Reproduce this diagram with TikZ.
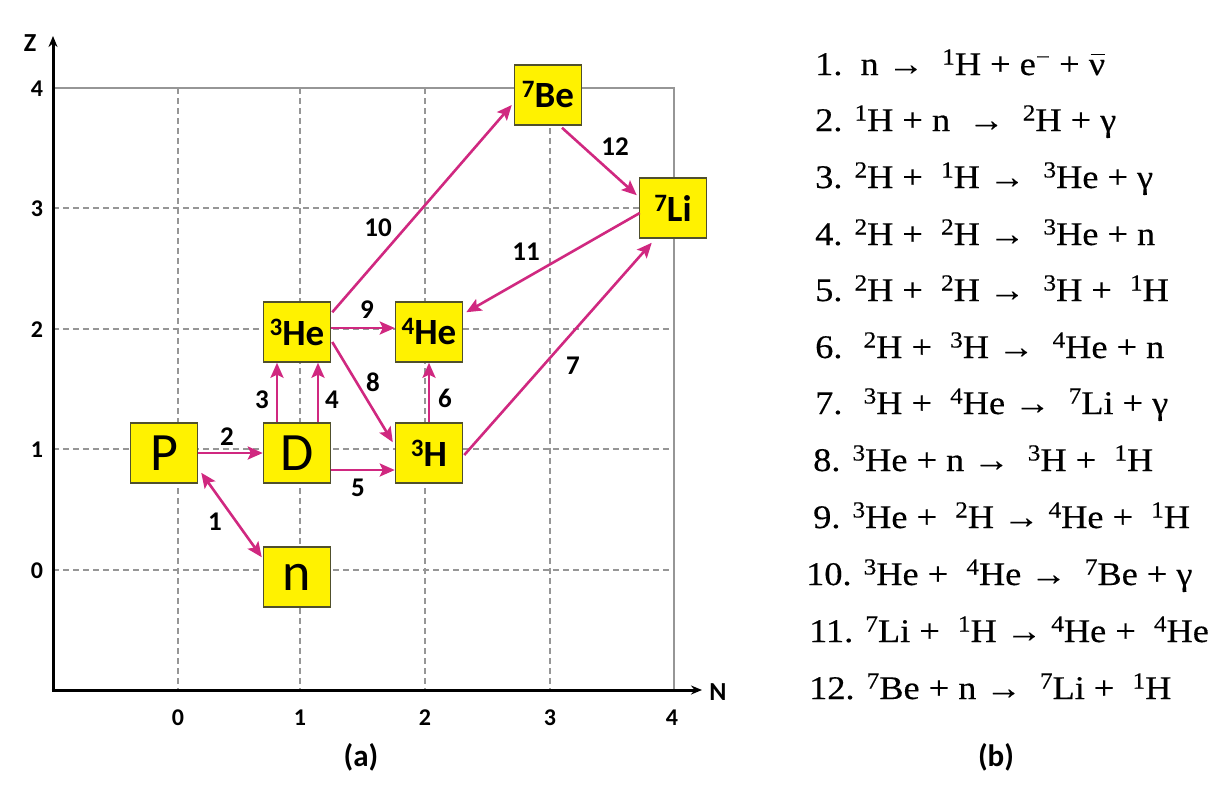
\documentclass[tikz,border=0pt]{standalone}
\usepackage{fontspec}
\setmainfont{Carlito}
\newfontfamily\eqfont[FakeStretch=1.1,FakeBold=0.4]{Liberation Serif}
\usetikzlibrary{arrows.meta,calc}
\definecolor{mag}{RGB}{208,40,128}
\definecolor{boxedge}{RGB}{80,80,45}
\definecolor{gridc}{RGB}{150,150,150}
\newcommand\esup[1]{\raisebox{10.5pt}{\fontsize{23}{23}\selectfont #1}}
\newcommand\bsup[1]{\raisebox{10pt}{\fontsize{25}{25}\selectfont #1}}
\newcommand\nubar{\makebox[0pt][l]{\hspace{0.06em}\rule[0.6em]{0.42em}{1.4pt}}ν}
\tikzset{
  nuc/.style={draw=boxedge, fill=yellow, line width=1.5pt, minimum width=67pt, minimum height=60pt, inner sep=0pt},
  bigtxt/.style={font=\fontsize{54}{54}\selectfont},
  iso/.style={font=\bfseries\fontsize{37}{37}\selectfont},
  rx/.style={draw=mag, line width=2.6pt, -{Stealth[length=15pt,width=13pt,inset=3pt]}},
  elab/.style={font=\bfseries\fontsize{27}{27}\selectfont, inner sep=0pt},
  ticklab/.style={font=\bfseries\fontsize{24}{24}\selectfont, inner sep=0pt},
  gridline/.style={gridc, line width=1.2pt, dash pattern=on 6pt off 4pt},
  axisline/.style={line width=3pt, -{Stealth[length=11pt,width=9pt]}},
  eqline/.style={anchor=base west, inner sep=0pt, font=\eqfont\fontsize{33}{36}\selectfont},
  captxt/.style={font=\bfseries\fontsize{31}{31}\selectfont, inner sep=0pt}
}
\begin{document}
\begin{tikzpicture}[x=1pt,y=-1pt]
\useasboundingbox (0,0) rectangle (1226,790);
% grid
\foreach \gx in {178,300,425,550} \draw[gridline] (\gx,88) -- (\gx,690);
\foreach \gy in {208,329,449,570} \draw[gridline] (53,\gy) -- (674,\gy);
\draw[gridc, line width=1.2pt] (53,88) -- (674,88) -- (674,690);
% axes
\coordinate (O) at (53,690);
\coordinate (ztip) at (53,36);
\coordinate (ntip) at (702,690);
\draw[axisline] ([yshift=-1.5pt]O) -- (ztip);
\draw[axisline] ([xshift=-1.5pt]O) -- (ntip);
\node[font=\bfseries\fontsize{26}{26}\selectfont] (zl) at (30,43) {Z};
\node[font=\bfseries\fontsize{26}{26}\selectfont] (nl) at (718,692) {N};
\node[ticklab] (y4) at (37,89) {4};
\node[ticklab] (y3) at (37,209) {3};
\node[ticklab] (y2) at (37,330) {2};
\node[ticklab] (y1) at (37,450) {1};
\node[ticklab] (y0) at (37,571) {0};
\node[ticklab] (x0) at (178,718) {0};
\node[ticklab] (x1) at (300,718) {1};
\node[ticklab] (x2) at (425,718) {2};
\node[ticklab] (x3) at (550,718) {3};
\node[ticklab] (x4) at (672,718) {4};
\node[captxt] (capa) at (361,757) {(a)};
\node[captxt] (capb) at (996,757) {(b)};
% nuclei
\node[nuc, bigtxt] (P) at (164,453) {P};
\node[nuc, bigtxt] (D) at (297,453) {D};
\node[nuc, bigtxt] (n) at (297,577) {n};
\node[nuc, iso] (H3) at (429,453) {\bsup{3}H};
\node[nuc, iso] (He3) at (297,332) {\bsup{3}He};
\node[nuc, iso] (He4) at (429,332) {\bsup{4}He};
\node[nuc, iso] (Be7) at (548,95) {\bsup{7}Be};
\node[nuc, iso] (Li7) at (673,208) {\bsup{7}Li};
% reactions
\draw[rx, {Stealth[length=15pt,width=13pt,inset=3pt]}-{Stealth[length=15pt,width=13pt,inset=3pt]}] ($(P.south east)+(3,-11)$) -- ($(n.north west)+(-1,11)$);
\draw[rx] (P.east) -- (D.west);
\draw[rx] ([xshift=-20pt]D.north) -- ([xshift=-20pt]He3.south);
\draw[rx] ([xshift=21pt]D.north) -- ([xshift=21pt]He3.south);
\draw[rx] ([yshift=-17pt]D.east) -- ([yshift=-17pt]H3.west);
\draw[rx] (H3.north) -- (He4.south);
\draw[rx] ($(H3.east)+(1,2)$) -- ($(Li7.south west)+(13,4)$);
\draw[rx] ($(He3.east)+(1,10)$) -- ($(H3.north west)+(-2,20)$);
\draw[rx] ([yshift=4pt]He3.east) -- ([yshift=4pt]He4.west);
\draw[rx] ($(He3.north east)+(1,11)$) -- ($(Be7.west)+(-2,10)$);
\draw[rx] ($(Li7.west)+(1,5)$) -- ($(He4.north east)+(3,11)$);
\draw[rx] ($(Be7.south)+(14,2)$) -- ($(Li7.north west)+(-2,18)$);
% reaction labels
\node[elab] (l1) at (215,522) {1};
\node[elab] (l2) at (227,437) {2};
\node[elab] (l3) at (262,400) {3};
\node[elab] (l4) at (332,400) {4};
\node[elab] (l5) at (358,488) {5};
\node[elab] (l6) at (445,398) {6};
\node[elab] (l7) at (573,366) {7};
\node[elab] (l8) at (373,382) {8};
\node[elab] (l9) at (367,310) {9};
\node[elab] (l10) at (378,228) {10};
\node[elab] (l11) at (526,252) {11};
\node[elab] (l12) at (615,147) {12};
% equations
\node[eqline] (e1) at (815,75) {1.\ \ n → \ \esup{1}H + e\esup{−} + \nubar};
\node[eqline] (e2) at (815,131) {2. \esup{1}H + n \ → \ \esup{2}H + γ};
\node[eqline] (e3) at (815,188) {3. \esup{2}H + \ \esup{1}H → \ \esup{3}He + γ};
\node[eqline] (e4) at (815,245) {4. \esup{2}H + \ \esup{2}H → \ \esup{3}He + n};
\node[eqline] (e5) at (815,301) {5. \esup{2}H + \ \esup{2}H → \ \esup{3}H + \ \esup{1}H};
\node[eqline] (e6) at (815,358) {6. \ \esup{2}H + \ \esup{3}H → \ \esup{4}He + n};
\node[eqline] (e7) at (815,414) {7. \ \esup{3}H + \ \esup{4}He → \ \esup{7}Li + γ};
\node[eqline] (e8) at (813,471) {8. \esup{3}He + n → \ \esup{3}H + \ \esup{1}H};
\node[eqline] (e9) at (813,528) {9. \esup{3}He + \ \esup{2}H → \esup{4}He + \ \esup{1}H};
\node[eqline] (e10) at (806,585) {10. \esup{3}He + \ \esup{4}He → \ \esup{7}Be + γ};
\node[eqline] (e11) at (809,642) {11. \esup{7}Li + \ \esup{1}H → \esup{4}He + \ \esup{4}He};
\node[eqline] (e12) at (809,699) {12. \esup{7}Be + n → \ \esup{7}Li + \ \esup{1}H};
\end{tikzpicture}
\end{document}
